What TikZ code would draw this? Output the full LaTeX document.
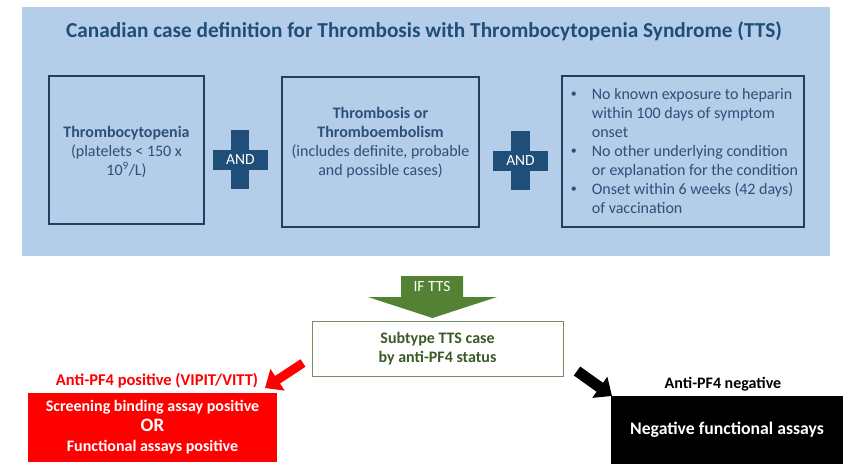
\documentclass[tikz,border=0pt]{standalone}
\usepackage{fontspec}
\setmainfont{Carlito}
\usetikzlibrary{calc,arrows.meta}
\definecolor{panelblue}{RGB}{180,205,232}
\definecolor{darkblue}{RGB}{31,78,121}
\definecolor{boxline}{RGB}{35,62,100}
\definecolor{txtblue}{RGB}{44,80,120}
\definecolor{ttsgreen}{RGB}{84,130,53}
\definecolor{subgreen}{RGB}{58,90,38}
\definecolor{subline}{RGB}{120,140,100}
\newcommand{\critbul}{\makebox[22pt][l]{\hspace{1pt}\raisebox{2pt}{\fontsize{12}{12}\selectfont\textbullet}}}
\tikzset{
  critbox/.style={draw=boxline,line width=1.3pt,inner sep=0pt},
  crittext/.style={text=txtblue,font=\fontsize{16}{19}\selectfont,align=center},
  plusbar/.style={fill=darkblue},
  andtext/.style={text=white,font=\fontsize{15.5}{17}\selectfont},
  fatarrow/.style={line width=9pt,-{Triangle[width=25pt,length=15pt]}},
}

\begin{document}
\begin{tikzpicture}[x=1pt,y=-1pt]
                \fill[white] (0,0) rectangle (850,473);
                \fill[panelblue] (22,7) rectangle (830,256);
                \node[text=darkblue,font=\fontsize{21.3}{25}\selectfont\bfseries] (title) at (424,31)
                    {Canadian case definition for Thrombosis with Thrombocytopenia Syndrome (TTS)};

                \node[critbox,minimum width=155,minimum height=148] (thr) at (126.5,150) {};
                \node[critbox,minimum width=197,minimum height=150] (emb) at (380.5,152) {};
                \node[critbox,minimum width=242,minimum height=151] (cond) at (683,151.5) {};

                \node[crittext] at ($(thr)+(0,2)$) {{\bfseries Thrombocytopenia}\\(platelets < 150 x\\10\textsuperscript{9}/L)};
                \node[crittext] at ($(emb)+(0,-9)$) {{\bfseries Thrombosis or}\\{\bfseries Thromboembolism}\\(includes definite, probable\\and possible cases)};
                \node[crittext,align=left,anchor=west] at ($(cond.west)+(5,0)$)
                    {\critbul No known exposure to heparin\\
                     \hspace*{22pt}within 100 days of symptom\\
                     \hspace*{22pt}onset\\
                     \critbul No other underlying condition\\
                     \hspace*{22pt}or explanation for the condition\\
                     \critbul Onset within 6 weeks (42 days)\\
                     \hspace*{22pt}of vaccination};

                % the two plus signs
                \fill[plusbar] (231,130) rectangle (249,189);
                \fill[plusbar] (213,150) rectangle (268,170);
                \node[andtext] (and1) at (240.5,160) {AND};
                \fill[plusbar] (511,131) rectangle (530,190);
                \fill[plusbar] (493,151) rectangle (548,171);
                \node[andtext] (and2) at (520.5,161) {AND};

                \fill[ttsgreen] (401,276) -- (463,276) -- (463,297) -- (497,297) -- (432.5,318)
                    -- (368,297) -- (401,297) -- cycle;
                \node[text=white,font=\fontsize{15.5}{17}\selectfont] (iftts) at (432,287) {IF TTS};

                \node[draw=subline,line width=1pt,minimum width=251,minimum height=55,text=subgreen,
                      font=\fontsize{16}{19}\selectfont\bfseries,align=center] (sub) at (437.5,348.5)
                    {Subtype TTS case\\by anti-PF4 status};

                \node[fill=red,minimum width=249,minimum height=69,text=white,
                      font=\fontsize{16}{20}\selectfont\bfseries,align=center] (pos) at (152.5,427.5)
                    {Screening binding assay positive\\{\fontsize{19}{20}\selectfont OR}\\Functional assays positive};
                \node[text=red,font=\fontsize{16.5}{18}\selectfont\bfseries] (poslabel) at (157,381) {Anti-PF4 positive (VIPIT/VITT)};

                \node[fill=black,minimum width=232,minimum height=68,text=white,
                      font=\fontsize{17.7}{20}\selectfont\bfseries] (neg) at (727,430) {Negative functional assays};
                \node[font=\fontsize{16}{18}\selectfont\bfseries] (neglabel) at (723,384) {Anti-PF4 negative};

                \coordinate (redtail) at (303,363);
                \coordinate (redtip) at (265,388);
                \coordinate (blacktail) at (577,371);
                \coordinate (blacktip) at (612,396);
                \draw[fatarrow,red] (redtail) -- (redtip);
                \draw[fatarrow,black,line width=11pt] (blacktail) -- (blacktip);
            \end{tikzpicture}
\end{document}
